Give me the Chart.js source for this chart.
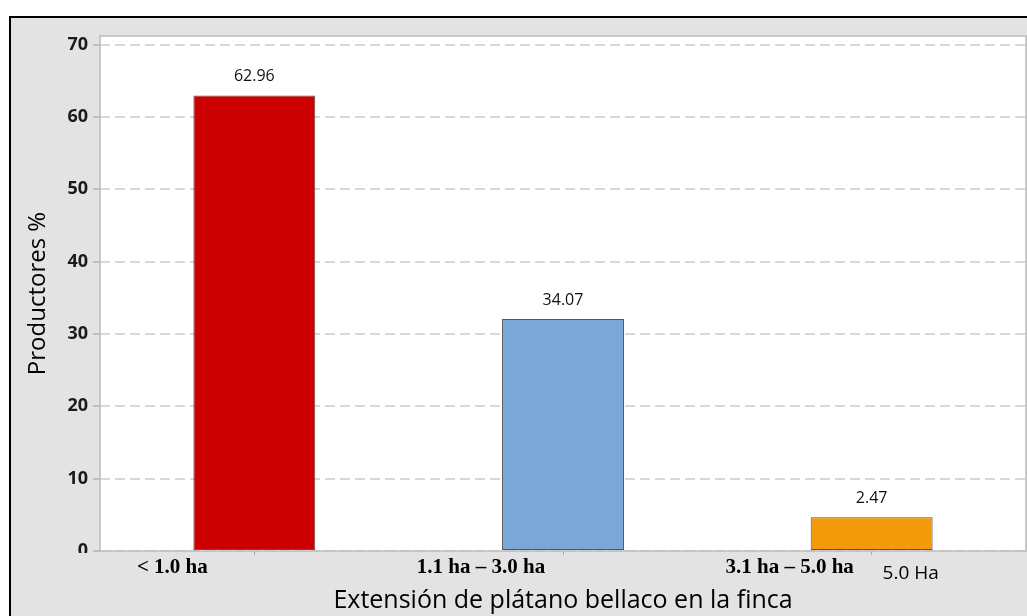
<!DOCTYPE html>
<html>
<head>
<meta charset="utf-8">
<script src="https://cdn.jsdelivr.net/npm/chart.js@4.4.1/dist/chart.umd.min.js"></script>
<style>
html, body { margin: 0; padding: 0; background: #fff; }
#wrap { width: 1027px; height: 616px; position: relative; }
</style>
</head>
<body>
<div id="wrap"><canvas id="chart"></canvas></div>
<script>
const categories = ['< 1.0 ha', '1.1 ha – 3.0 ha', '3.1 ha – 5.0 ha'];
const barHeights = [62.96, 32.07, 4.67];
const valueLabels = ['62.96', '34.07', '2.47'];
const barColors = ['#cc0000', '#7ba6d8', '#f39a0b'];
const yTicks = [0, 10, 20, 30, 40, 50, 60, 70];
const extraLabel = '5.0 Ha';

const GRAY = '#e3e3e3';

const framePlugin = {
    id: 'frame',
    beforeDraw(chart) {
        const { ctx, chartArea: a, width, height } = chart;
        ctx.save();
        ctx.fillStyle = '#fff';
        ctx.fillRect(0, 0, width, height);
        ctx.fillStyle = GRAY;
        ctx.fillRect(10, 17, width - 10, height - 17);
        ctx.strokeStyle = '#000';
        ctx.lineWidth = 2;
        ctx.beginPath();
        ctx.moveTo(10, height);
        ctx.lineTo(10, 17);
        ctx.lineTo(width, 17);
        ctx.stroke();
        ctx.fillStyle = '#fff';
        ctx.fillRect(a.left, a.top, a.right - a.left, a.bottom - a.top);
        ctx.restore();
    },
    afterDraw(chart) {
        const { ctx, chartArea: a } = chart;
        const meta = chart.getDatasetMeta(0);
        const xScale = chart.scales.x;
        ctx.save();
        // plot border
        ctx.strokeStyle = '#bcbcbc';
        ctx.lineWidth = 1.5;
        ctx.strokeRect(a.left, a.top, a.right - a.left, a.bottom - a.top);

        // value labels over the bars
        ctx.fillStyle = '#111';
        ctx.font = '16px "Open Sans"';
        ctx.textAlign = 'center';
        ctx.textBaseline = 'middle';
        meta.data.forEach((bar, i) => {
            ctx.fillText(valueLabels[i], bar.x, bar.y - 19);
        });

        // pasted-over label strip hides lower half of the 0 tick
        ctx.fillStyle = GRAY;
        ctx.fillRect(11, a.bottom + 2, a.left - 12, 24);

        // leftover label from under the pasted strip
        ctx.fillStyle = '#000';
        ctx.font = '19px "Open Sans"';
        ctx.fillText(extraLabel, xScale.getPixelForValue(2) + 39, a.bottom + 23);
        ctx.restore();
    }
};

const ctx = document.getElementById('chart').getContext('2d');
new Chart(ctx, {
    type: 'bar',
    data: {
        labels: categories,
        datasets: [{
            data: barHeights,
            backgroundColor: barColors,
            borderColor: '#555',
            borderWidth: 1,
            borderSkipped: false,
            barPercentage: 0.395,
            categoryPercentage: 1
        }]
    },
    options: {
        responsive: true,
        maintainAspectRatio: false,
        animation: false,
        layout: { padding: { left: 10, top: 36, right: 1, bottom: 0 } },
        plugins: {
            legend: { display: false },
            tooltip: { enabled: false }
        },
        scales: {
            x: {
                afterFit: scale => { scale.height = 65; },
                grid: {
                    drawOnChartArea: false,
                    offset: false,
                    tickLength: 4,
                    color: '#aaa'
                },
                border: { display: false },
                ticks: {
                    color: '#000',
                    font: { family: '"Liberation Serif"', size: 21, weight: 'bold' },
                    labelOffset: -82,
                    padding: 0,
                    maxRotation: 0,
                    autoSkip: false
                },
                title: {
                    display: true,
                    text: 'Extensión de plátano bellaco en la finca',
                    color: '#000',
                    font: { family: '"Open Sans"', size: 25 },
                    padding: { top: 0, bottom: 0 }
                }
            },
            y: {
                min: 0,
                max: 71.2,
                afterFit: scale => { scale.width = 90; },
                afterBuildTicks: axis => { axis.ticks = yTicks.map(v => ({ value: v })); },
                grid: {
                    color: '#d8d8d8',
                    lineWidth: 2,
                    tickLength: 7,
                    tickColor: '#999',
                    tickWidth: 1,
                    tickBorderDash: []
                },
                border: { display: false, dash: [10, 5] },
                ticks: {
                    color: '#1a1a1a',
                    font: { family: '"Open Sans"', size: 18, weight: 'bold' },
                    padding: 5
                },
                title: {
                    display: true,
                    text: 'Productores %',
                    color: '#000',
                    font: { family: '"Open Sans"', size: 24 },
                    padding: { top: 14, bottom: 0 }
                }
            }
        }
    },
    plugins: [framePlugin]
});
</script>
</body>
</html>
